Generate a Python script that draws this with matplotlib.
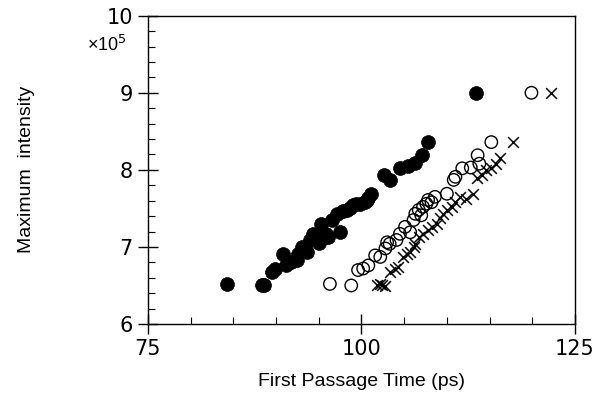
import matplotlib
import matplotlib.pyplot as plt
from matplotlib.ticker import MultipleLocator

matplotlib.use('Agg')
plt.rcParams['font.family'] = ['Liberation Sans', 'DejaVu Sans']

# first passage time (ps) and maximum intensity (x10^5) for each set
filled_t = [84.2, 88.3, 88.6, 89.5, 89.9, 90.8, 91.2, 91.8, 92.4, 92.6, 93.0, 93.6,
            94.0, 94.3, 95.0, 95.3, 95.9, 96.1, 96.6, 97.1, 97.5, 97.8, 98.3, 98.6,
            99.0, 99.4, 99.8, 100.4, 100.6, 100.8, 101.1, 102.6, 103.3, 104.5,
            105.5, 106.3, 107.1, 107.8, 113.4]
filled_i = [6.52, 6.51, 6.50, 6.68, 6.71, 6.91, 6.76, 6.80, 6.83, 6.91, 7.00, 6.94,
            7.09, 7.17, 7.05, 7.30, 7.17, 7.13, 7.35, 7.43, 7.19, 7.47, 7.48, 7.50,
            7.54, 7.56, 7.56, 7.58, 7.61, 7.64, 7.69, 7.93, 7.87, 8.02,
            8.05, 8.09, 8.19, 8.36, 9.00]

open_t = [96.3, 98.8, 99.6, 100.2, 100.8, 101.6, 102.2, 102.8, 103.0, 103.3, 104.1,
          104.5, 105.1, 105.7, 106.1, 106.3, 106.7, 107.0, 107.2, 107.6, 107.8, 108.2,
          108.6, 110.0, 110.8, 111.0, 111.8, 112.8, 113.6, 113.8, 115.2, 119.9]
open_i = [6.52, 6.50, 6.70, 6.72, 6.76, 6.89, 6.87, 6.98, 7.06, 7.04, 7.09,
          7.17, 7.26, 7.19, 7.35, 7.43, 7.48, 7.41, 7.52, 7.56, 7.61, 7.58,
          7.65, 7.69, 7.87, 7.91, 8.02, 8.03, 8.19, 8.08, 8.36, 9.00]

cross_t = [101.8, 102.2, 102.4, 102.8, 103.3, 103.9, 104.3, 104.9, 105.3, 105.7,
           106.1, 106.3, 106.7, 107.2, 107.8, 108.2, 108.8, 109.2, 109.6, 110.0,
           110.6, 110.9, 111.5, 112.2, 113.1, 113.5, 114.1, 114.6, 115.2, 115.8,
           116.2, 117.7, 122.2]
cross_i = [6.50, 6.52, 6.50, 6.49, 6.68, 6.72, 6.74, 6.87, 6.91, 6.94,
           7.00, 7.04, 7.13, 7.17, 7.22, 7.26, 7.30, 7.37, 7.43, 7.48,
           7.52, 7.58, 7.65, 7.62, 7.69, 7.89, 7.93, 8.00, 8.02, 8.08,
           8.15, 8.36, 9.00]

fig = plt.figure(figsize=(6.13, 4.05), dpi=100)
ax = fig.add_axes([0.2414, 0.2, 0.6966, 0.7612])

ax.scatter(filled_t, filled_i, s=100, c='black', edgecolors='black', linewidths=0.5, zorder=3)
ax.scatter(open_t, open_i, s=80, facecolors='none', edgecolors='black', linewidths=1.0, zorder=3)
ax.scatter(cross_t, cross_i, s=60, marker='x', c='black', linewidths=1.1, zorder=3)

ax.set_xlim(75, 125)
ax.set_ylim(6, 10)
ax.xaxis.set_major_locator(MultipleLocator(25))
ax.xaxis.set_minor_locator(MultipleLocator(5))
ax.yaxis.set_major_locator(MultipleLocator(1))
ax.yaxis.set_minor_locator(MultipleLocator(0.2))

ax.tick_params(which='major', direction='inout', length=14, width=1.0,
               labelsize=15, pad=4)
ax.tick_params(which='minor', direction='in', length=5, width=0.8)
ax.tick_params(top=False, right=False, which='both')
for lbl in ax.get_xticklabels() + ax.get_yticklabels():
    lbl.set_family('DejaVu Sans')
for sp in ax.spines.values():
    sp.set_linewidth(1.0)

ax.text(-0.143, 0.905, '×10$^5$', transform=ax.transAxes, fontsize=13, va='center')

ax.set_xlabel('First Passage Time (ps)', fontsize=14, labelpad=10)
ax.set_ylabel('Maximum  intensity', fontsize=14)
ax.yaxis.set_label_coords(-0.265, 0.5)

fig.savefig('out.png', dpi=100)
